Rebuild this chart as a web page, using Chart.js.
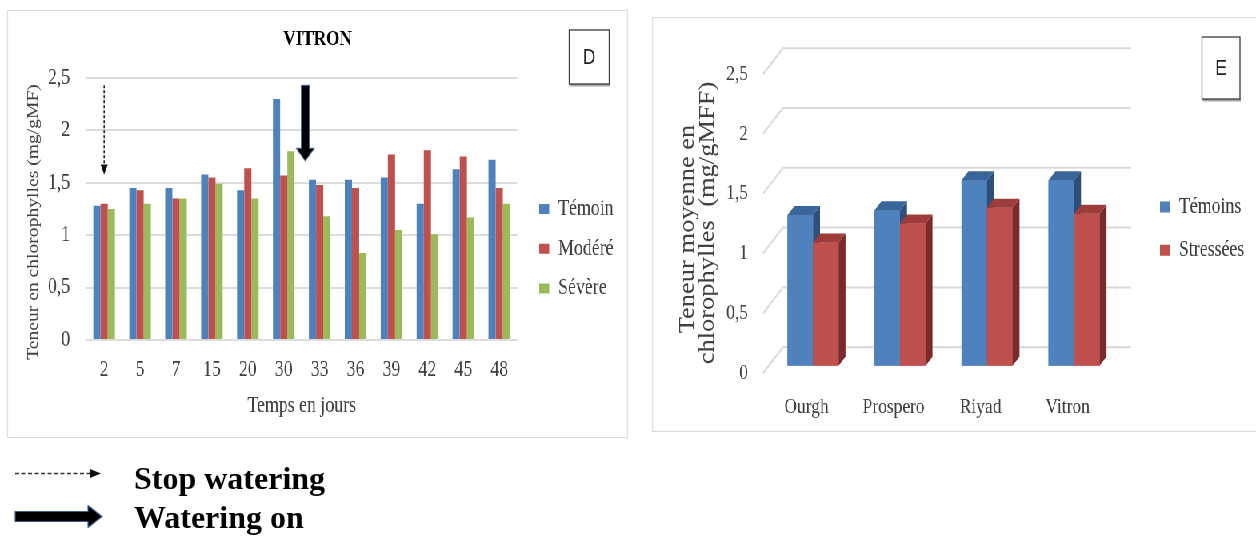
<!DOCTYPE html>
<html lang="fr">
<head>
<meta charset="utf-8">
<title>Teneur en chlorophylles</title>
<script src="https://cdn.jsdelivr.net/npm/chart.js@4.4.1/dist/chart.umd.min.js"></script>
<style>
  html, body { margin:0; padding:0; background:#fff; }
  body { width:1256px; height:538px; overflow:hidden; position:relative; }
  /* the figure is set condensed horizontally */
  #figure { position:absolute; left:0; top:0; width:1570px; height:538px; transform:scaleX(0.8); transform-origin:0 0; }
  .panel { position:absolute; border:1px solid #d9d9d9; background:#fff; }
  .panel canvas { display:block; }
  #keys { position:absolute; left:0; top:440px; }
</style>
</head>
<body>
<div id="figure">
  <div class="panel" id="panelD"><canvas id="chartD"></canvas></div>
  <div class="panel" id="panelE"><canvas id="chartE"></canvas></div>
</div>
<svg id="keys" width="420" height="98" xmlns="http://www.w3.org/2000/svg">
  <line x1="15" y1="33.5" x2="91" y2="33.5" stroke="#333" stroke-width="1.6" stroke-dasharray="4 2.5"/>
  <polygon points="90,29 101,33.5 90,38" fill="#111"/>
  <polygon points="15,71.5 88,71.5 88,65.5 102,76.5 88,87.5 88,81.5 15,81.5" fill="#000" stroke="#3b5f93" stroke-width="1.2" stroke-linejoin="round"/>
  <text x="134" y="48.5" font-family="'Liberation Serif','Times New Roman',serif" font-weight="bold" font-size="32" fill="#000">Stop watering</text>
  <text x="134" y="88" font-family="'Liberation Serif','Times New Roman',serif" font-weight="bold" font-size="32" fill="#000">Watering on</text>
</svg>
<script>
// ---- data -------------------------------------------------------------
const days     = ['2', '5', '7', '15', '20', '30', '33', '36', '39', '42', '45', '48'];
const temoin   = [1.28, 1.45, 1.45, 1.58, 1.43, 2.30, 1.53, 1.53, 1.55, 1.30, 1.63, 1.72];
const modere   = [1.30, 1.43, 1.35, 1.55, 1.64, 1.57, 1.48, 1.45, 1.77, 1.81, 1.75, 1.45];
const severe   = [1.25, 1.30, 1.35, 1.49, 1.35, 1.80, 1.18, 0.83, 1.05, 1.01, 1.17, 1.30];
const yTickText = ['0', '0,5', '1', '1,5', '2', '2,5'];

const varieties = ['Ourgh', 'Prospero', 'Riyad', 'Vitron'];
const temoins   = [1.26, 1.30, 1.55, 1.55];
const stressees = [1.03, 1.19, 1.32, 1.27];

// irrigation events on the VITRON time axis (category position, arrow top value, arrow tip value)
const wateringEvents = [
  { kind: 'stop', at: 0,   from: 2.43, to: 1.58 },
  { kind: 'on',   at: 5.6, from: 2.43, to: 1.71 }
];

// ---- setup ------------------------------------------------------------
const SX = 0.8;                          // horizontal condensing of the figure
const SERIF = '"Liberation Serif", "Times New Roman", serif';
Chart.defaults.font.family = SERIF;
Chart.defaults.color = '#404040';
const BLUE = '#4f81bd', RED = '#c0504d', GREEN = '#9bbb59';
const half = size => size * 1.2 / 2;

function placePanel(id, canvasId, x0, y0, w, h) {
  const p = document.getElementById(id);
  p.style.left = (x0 / SX) + 'px';
  p.style.top = y0 + 'px';
  const cw = Math.round(w / SX) - 2, ch = h - 2;
  const c = document.getElementById(canvasId);
  c.width = cw; c.height = ch;
  c.style.width = cw + 'px'; c.style.height = ch + 'px';
  return { cw, ch };
}

const meas = document.createElement('canvas').getContext('2d');
function legendWidth(labels, size, pad, boxW) {
  meas.font = size + 'px ' + SERIF;
  const w = Math.max(...labels.map(t => meas.measureText(t).width));
  return pad + boxW + size / 2 + w + 10;
}

function poly(ctx, pts) {
  ctx.beginPath();
  ctx.moveTo(pts[0][0], pts[0][1]);
  for (let i = 1; i < pts.length; i++) ctx.lineTo(pts[i][0], pts[i][1]);
  ctx.closePath();
  ctx.fill();
}

// moves the legend block next to the plot
const legendPlace = {
  id: 'legendPlace',
  afterLayout(chart, args, o) {
    const lg = chart.legend;
    if (!lg || o.left == null) return;
    const ddx = o.left - (lg.left + o.padding);
    const ddy = o.centerY - (lg.top + o.padding + o.itemHeight / 2);
    lg.left += ddx; lg.right += ddx; lg.top += ddy; lg.bottom += ddy;
  }
};

// vertical value-axis caption, one entry per line
const sideTitle = {
  id: 'sideTitle',
  afterDraw(chart, args, o) {
    if (!o.lines) return;
    const ctx = chart.ctx;
    ctx.save();
    ctx.fillStyle = o.color;
    ctx.font = o.size + 'px ' + SERIF;
    ctx.textAlign = 'center';
    ctx.textBaseline = 'middle';
    o.lines.forEach(l => {
      ctx.save();
      ctx.translate(l.x, l.y);
      ctx.rotate(-Math.PI / 2);
      ctx.fillText(l.text, 0, 0);
      ctx.restore();
    });
    ctx.restore();
  }
};

// framed panel letter
const panelTag = {
  id: 'panelTag',
  afterDraw(chart, args, o) {
    if (!o.text) return;
    const ctx = chart.ctx;
    const w = o.x1 - o.x0, h = o.y1 - o.y0;
    ctx.save();
    ctx.fillStyle = '#a6a6a6';
    ctx.fillRect(o.x0 + 1, o.y1 - 1, w, 3.5);
    ctx.fillStyle = '#fff';
    ctx.fillRect(o.x0, o.y0, w, h);
    ctx.strokeStyle = '#3a3a3a';
    ctx.lineWidth = 1.3;
    ctx.strokeRect(o.x0, o.y0, w, h);
    ctx.fillStyle = '#222';
    ctx.font = '22px "Liberation Sans", Arial, sans-serif';
    ctx.textAlign = 'center';
    ctx.textBaseline = 'middle';
    ctx.fillText(o.text, o.x0 + w / 2, o.y0 + h / 2 + 1);
    ctx.restore();
  }
};

// irrigation arrows over the time series
const wateringArrows = {
  id: 'wateringArrows',
  afterDatasetsDraw(chart) {
    const { ctx, scales: { x, y } } = chart;
    wateringEvents.forEach(ev => {
      const px = x.getPixelForValue(ev.at);
      const top = y.getPixelForValue(ev.from);
      const tip = y.getPixelForValue(ev.to);
      ctx.save();
      if (ev.kind === 'stop') {
        const headL = 10, headW = 3.6 / SX;
        ctx.strokeStyle = '#222';
        ctx.lineWidth = 1.3 / SX;
        ctx.setLineDash([3, 2]);
        ctx.beginPath();
        ctx.moveTo(px, top);
        ctx.lineTo(px, tip - headL + 1);
        ctx.stroke();
        ctx.fillStyle = '#111';
        poly(ctx, [[px - headW, tip - headL], [px + headW, tip - headL], [px, tip]]);
      } else {
        const headL = 12.5, headW = 9 / SX, shaftW = 4 / SX;
        ctx.fillStyle = '#000';
        ctx.strokeStyle = 'rgba(60,95,150,0.8)';
        ctx.lineWidth = 1.2;
        ctx.lineJoin = 'round';
        poly(ctx, [[px - shaftW, top], [px + shaftW, top], [px + shaftW, tip - headL],
                   [px + headW, tip - headL], [px, tip], [px - headW, tip - headL], [px - shaftW, tip - headL]]);
        ctx.stroke();
      }
      ctx.restore();
    });
  }
};

// pseudo-3D columns: back wall grid, then side and top faces of every bar
const columns3d = {
  id: 'columns3d',
  beforeDatasetsDraw(chart, args, o) {
    const { ctx, chartArea, scales: { y } } = chart;
    ctx.save();
    ctx.strokeStyle = '#d9d9d9';
    ctx.lineWidth = 2;
    y.ticks.forEach(t => {
      const py = y.getPixelForValue(t.value);
      ctx.beginPath();
      ctx.moveTo(chartArea.left + o.front[0], py + o.front[1]);
      ctx.lineTo(chartArea.left + o.back[0], py + o.back[1]);
      ctx.lineTo(chartArea.right + o.back[0], py + o.back[1]);
      ctx.stroke();
    });
    ctx.restore();
  },
  afterDatasetsDraw(chart, args, o) {
    const ctx = chart.ctx;
    const [ddx, ddy] = o.depth;
    chart.data.datasets.forEach((ds, i) => {
      chart.getDatasetMeta(i).data.forEach(bar => {
        const { x, y, base, width } = bar.getProps(['x', 'y', 'base', 'width'], true);
        const L = x - width / 2, R = x + width / 2;
        bar.draw(ctx);
        ctx.save();
        ctx.fillStyle = o.side[i];
        poly(ctx, [[R, y], [R + ddx, y + ddy], [R + ddx, base + ddy], [R, base]]);
        ctx.fillStyle = o.top[i];
        poly(ctx, [[L, y], [R, y], [R + ddx, y + ddy], [L + ddx, y + ddy]]);
        ctx.restore();
      });
    });
  }
};

// ---- panel D : VITRON time course --------------------------------------
const gD = placePanel('panelD', 'chartD', 7, 10, 621, 428);
const dX = v => (v - 7) / SX - 1, dY = v => v - 10 - 1;
const dLeft = dX(86), dRight = dX(517), dTop = dY(78), dBottom = dY(340);
const D_BOX_W = 10 / SX, D_FONT = 22.3, D_PAD = 17.5, D_TITLE = 21.5, D_YTITLE = 19.6;
const dLegW = legendWidth(['Témoin', 'Modéré', 'Sévère'], D_FONT, D_PAD, D_BOX_W);
const dSide = gD.cw - dRight - dLegW;
const titleTop = dY(39) - half(D_TITLE);

new Chart(document.getElementById('chartD'), {
  type: 'bar',
  data: {
    labels: days,
    datasets: [
      { label: 'Témoin', data: temoin, backgroundColor: BLUE },
      { label: 'Modéré', data: modere, backgroundColor: RED },
      { label: 'Sévère', data: severe, backgroundColor: GREEN }
    ]
  },
  options: {
    responsive: false, animation: false, devicePixelRatio: 1,
    layout: { padding: { left: dSide, right: dSide, top: 0, bottom: 0 } },
    datasets: { bar: { categoryPercentage: 0.6, barPercentage: 1 } },
    scales: {
      x: {
        grid: { display: false, drawTicks: false }, border: { display: false },
        ticks: { font: { size: D_FONT }, color: '#404040', padding: dY(370) - dBottom - half(D_FONT),
                 maxRotation: 0, autoSkip: false },
        title: { display: true, text: 'Temps en jours', font: { size: D_FONT }, color: '#404040',
                 padding: { top: 0, bottom: gD.ch - dY(406) - half(D_FONT) } },
        afterFit(s) { s.height = gD.ch - dBottom; }
      },
      y: {
        min: 0, max: 2.5,
        ticks: { stepSize: 0.5, font: { size: D_FONT }, color: '#404040', padding: dLeft - dX(70),
                 callback: (v, i) => yTickText[i] },
        grid: { color: '#dcdcdc', lineWidth: 2, drawTicks: false }, border: { display: false },
        afterFit(s) { s.width = dLeft - dSide; }
      }
    },
    plugins: {
      title: { display: true, text: 'VITRON', color: '#000', font: { size: D_TITLE, weight: 'bold' },
               padding: { top: titleTop, bottom: dTop - titleTop - 2 * half(D_TITLE) } },
      legend: { position: 'right', align: 'start', fullSize: false,
                labels: { font: { size: D_FONT }, color: '#404040', boxWidth: D_BOX_W, boxHeight: 10, padding: D_PAD } },
      tooltip: { enabled: false },
      legendPlace: { left: dX(539), centerY: dY(209), padding: D_PAD, itemHeight: D_FONT },
      sideTitle: { size: D_YTITLE, color: '#404040',
                   lines: [{ text: 'Teneur en chlorophylles (mg/gMF)', x: dX(33), y: dY(222) }] },
      panelTag: { text: 'D', x0: dX(569), x1: dX(609), y0: dY(30), y1: dY(84) }
    }
  },
  plugins: [legendPlace, sideTitle, panelTag, wateringArrows]
});

// ---- panel E : mean content per variety --------------------------------
const gE = placePanel('panelE', 'chartE', 652, 17, 610, 415);
const eX = v => (v - 652) / SX - 1, eY = v => v - 17 - 1;
const eLeft = eX(769.5), eRight = eX(1117.5), eTop = eY(66.7), eBottom = eY(365.7);
const E_BOX_W = 10 / SX, E_FONT = 22.3, E_TICK = 21.8, E_PAD = 21, E_PADL = 10, E_YTITLE = 26.5;
const eLegW = legendWidth(['Témoins', 'Stressées'], E_FONT, E_PAD, E_BOX_W);
const eRightPad = gE.cw - eRight - eLegW;

new Chart(document.getElementById('chartE'), {
  type: 'bar',
  data: {
    labels: varieties,
    datasets: [
      { label: 'Témoins', data: temoins, backgroundColor: BLUE },
      { label: 'Stressées', data: stressees, backgroundColor: RED }
    ]
  },
  options: {
    responsive: false, animation: false, devicePixelRatio: 1,
    layout: { padding: { left: E_PADL, right: eRightPad, top: eTop, bottom: 0 } },
    datasets: { bar: { categoryPercentage: 0.586, barPercentage: 1 } },
    scales: {
      x: {
        grid: { display: false, drawTicks: false }, border: { display: false },
        ticks: { font: { size: E_TICK }, color: '#404040', padding: eY(407) - eBottom - half(E_TICK), labelOffset: -6.4 / SX,
                 maxRotation: 0, autoSkip: false },
        afterFit(s) { s.height = gE.ch - eBottom; }
      },
      y: {
        min: 0, max: 2.5,
        ticks: { stepSize: 0.5, font: { size: E_TICK }, color: '#404040', padding: eLeft - eX(748), labelOffset: 7.3,
                 callback: (v, i) => yTickText[i] },
        grid: { display: false, drawTicks: false }, border: { display: false },
        afterFit(s) { s.width = eLeft - E_PADL; }
      }
    },
    plugins: {
      legend: { position: 'right', align: 'start', fullSize: false,
                labels: { font: { size: E_FONT }, color: '#404040', boxWidth: E_BOX_W, boxHeight: 11, padding: E_PAD } },
      tooltip: { enabled: false },
      legendPlace: { left: eX(1160), centerY: eY(207), padding: E_PAD, itemHeight: E_FONT },
      sideTitle: { size: E_YTITLE, color: '#404040',
                   lines: [{ text: 'Teneur moyenne en', x: eX(688), y: eY(229) },
                           { text: 'chlorophylles  (mg/gMFF)', x: eX(708), y: eY(223) }] },
      panelTag: { text: 'E', x0: eX(1202), x1: eX(1240), y0: eY(37), y1: eY(99) },
      columns3d: {
        front: [-6.4 / SX, 7.3], back: [13.5 / SX, -18.5], depth: [7 / SX, -9],
        side: ['#2d4f7a', '#7a2b29'], top: ['#3a659b', '#9e3c39']
      }
    }
  },
  plugins: [legendPlace, sideTitle, panelTag, columns3d]
});
</script>
</body>
</html>
